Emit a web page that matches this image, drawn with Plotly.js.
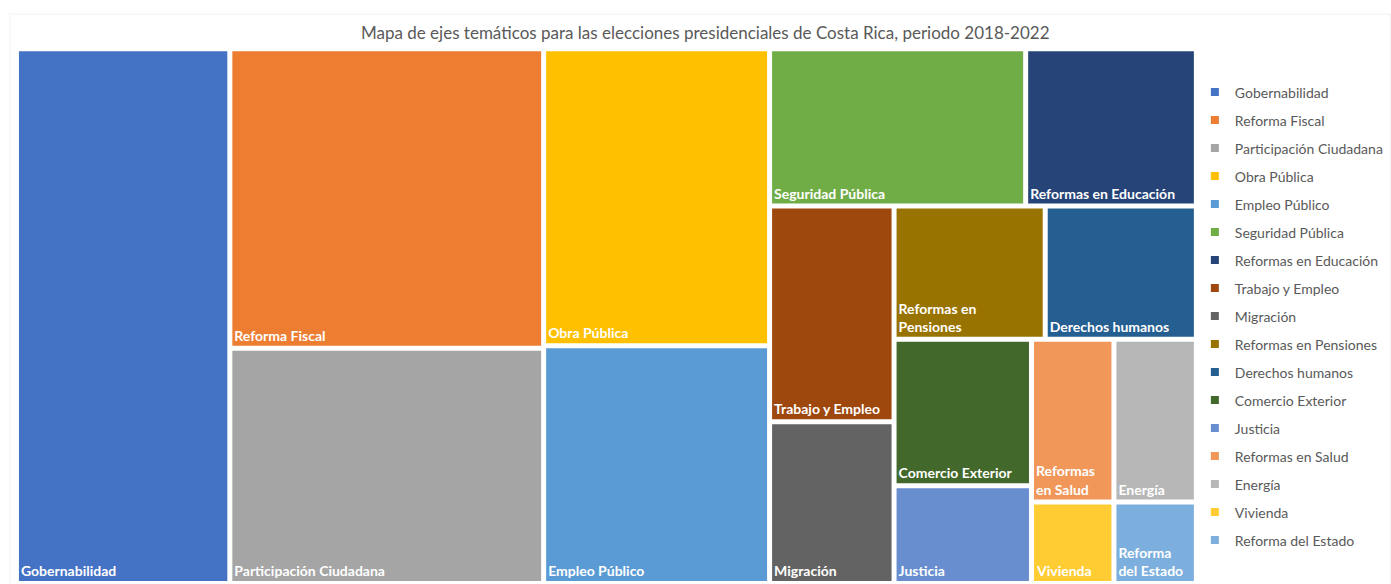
<!DOCTYPE html>
<html>
<head>
<meta charset="utf-8">
<script src="https://cdn.plot.ly/plotly-3.0.1.min.js"></script>
<style>html,body{margin:0;padding:0;background:#fff;}#chart{width:1391px;height:584px;}</style>
</head>
<body>
<div id="chart"></div>
<script>
// Categories (leaves) with their counts
const categories = ["Gobernabilidad","Reforma Fiscal","Participación Ciudadana","Obra Pública","Empleo Público","Seguridad Pública","Reformas en Educación","Trabajo y Empleo","Migración","Reformas en Pensiones","Derechos humanos","Comercio Exterior","Justicia","Reformas en Salud","Energía","Vivienda","Reforma del Estado"];
const values = [17,14,11,10,8,6,4,4,3,3,3,3,2,2,2,1,1];
const tileLabels = ["Gobernabilidad","Reforma Fiscal","Participación Ciudadana","Obra Pública","Empleo Público","Seguridad Pública","Reformas en Educación","Trabajo y Empleo","Migración","Reformas en<br>Pensiones","Derechos humanos","Comercio Exterior","Justicia","Reformas<br>en Salud","Energía","Vivienda","Reforma<br>del Estado"];
const colors = ["#4472C4","#ED7D31","#A5A5A5","#FFC000","#5B9BD5","#70AD47","#264478","#9E480E","#636363","#997300","#255E91","#43682B","#698ED0","#F1975A","#B7B7B7","#FFCD33","#7CAFDD"];
// Parent group of each category (grouping used by the tiling, as in the original layout)
const leafParents = ["g0","g1","g1","g2","g2","g3a","g3a","g4a","g4a","g5a","g5a","g6a","g6a","g7a","g7a","g7b","g7b"];
// Intermediate groups and their parents
const groupIds = ["root","g0","g1","g2","g3","g3a","g3b","g4a","g4b","g5a","g5b","g6a","g6b","g7a","g7b"];
const groupParents = ["","root","root","root","root","g3","g3","g3b","g3b","g4b","g4b","g5b","g5b","g6b","g6b"];

const ids = groupIds.concat(categories);
const parents = groupParents.concat(leafParents);
const nodeValues = groupIds.map(() => 0).concat(values);
const nodeText = groupIds.map(() => '').concat(tileLabels);
const nodeColors = groupIds.map(() => '#ffffff').concat(colors);

const treemap = {
  type: 'treemap',
  ids: ids,
  labels: ids,
  parents: parents,
  values: nodeValues,
  branchvalues: 'remainder',
  text: nodeText,
  texttemplate: '<b>%{text}</b>',
  textposition: 'bottom left',
  textfont: {family: 'Lato, "Liberation Sans", sans-serif', size: 14, color: '#ffffff'},
  marker: {colors: nodeColors, line: {color: '#ffffff', width: 2}, pad: {t: 0, l: 0, r: 0, b: 0}},
  tiling: {packing: 'slice-dice'},
  pathbar: {visible: false},
  sort: false,
  maxdepth: -1,
  hoverinfo: 'text+value',
  showlegend: false,
  domain: {x: [0.0129, 0.859], y: [0.0034, 0.914]}
};

const legendTraces = categories.map((c, i) => ({
  type: 'scatter', mode: 'markers', x: [null], y: [null], name: c,
  legendgroup: 'g' + i,
  marker: {symbol: 'square', size: 8, color: colors[i]},
  showlegend: true, hoverinfo: 'skip'
}));

const layout = {
  width: 1391, height: 584,
  margin: {l: 0, r: 0, t: 0, b: 0},
  paper_bgcolor: '#ffffff', plot_bgcolor: '#ffffff',
  title: {text: 'Mapa de ejes temáticos para las elecciones presidenciales de Costa Rica, periodo 2018-2022',
    x: 0.507, xanchor: 'center', y: 0.944, yanchor: 'middle',
    font: {family: 'Lato, "Liberation Sans", sans-serif', size: 17, color: '#595959'}},
  xaxis: {visible: false, domain: [0.86, 0.861]},
  yaxis: {visible: false, domain: [0, 0.001]},
  showlegend: true,
  legend: {x: 0.859, xanchor: 'left', y: 0.869, yanchor: 'top', tracegroupgap: 6.8,
    font: {family: 'Lato, "Liberation Sans", sans-serif', size: 14, color: '#595959'},
    bgcolor: 'rgba(0,0,0,0)', itemwidth: 30},
  shapes: [{type: 'rect', xref: 'paper', yref: 'paper', x0: 0.0072, x1: 0.9995, y0: -0.01, y1: 0.976,
    line: {color: '#F2F2F2', width: 1}, fillcolor: 'rgba(0,0,0,0)', layer: 'below'}]
};

Plotly.newPlot('chart', [treemap].concat(legendTraces), layout, {displayModeBar: false, responsive: false});
</script>
</body>
</html>
